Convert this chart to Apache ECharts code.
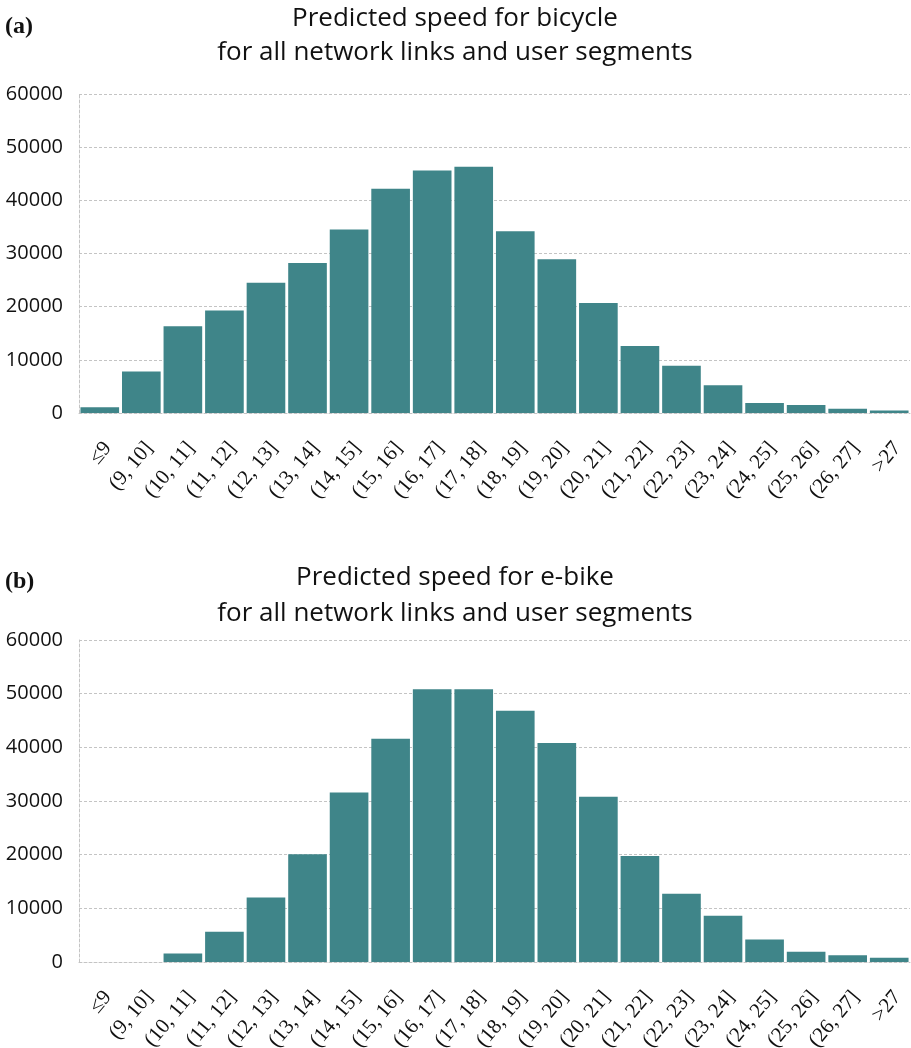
<!DOCTYPE html>
<html>
<head>
<meta charset="utf-8">
<script src="https://cdn.jsdelivr.net/npm/echarts@6/dist/echarts.min.js"></script>
<style>
  html, body { margin: 0; padding: 0; background: #fff; }
  #chart { width: 911px; height: 1048px; }
</style>
</head>
<body>
<div id="chart"></div>
<script>
// Speed bins (km/h)
const speedBins = ['≤9', '(9, 10]', '(10, 11]', '(11, 12]', '(12, 13]', '(13, 14]', '(14, 15]',
  '(15, 16]', '(16, 17]', '(17, 18]', '(18, 19]', '(19, 20]', '(20, 21]', '(21, 22]',
  '(22, 23]', '(23, 24]', '(24, 25]', '(25, 26]', '(26, 27]', '>27'];

// Counts of link/segment combinations per bin
const bicycleCounts = [1100, 7800, 16300, 19300, 24500, 28200, 34500, 42200, 45600, 46300,
  34200, 28900, 20700, 12600, 8900, 5200, 1900, 1500, 800, 450];
const ebikeCounts = [0, 0, 1600, 5650, 12000, 20100, 31600, 41600, 50800, 50800,
  46800, 40800, 30800, 19750, 12700, 8600, 4200, 1900, 1250, 800];

const yTicks = { min: 0, max: 60000, interval: 10000 };

const titleTopLines = ['Predicted speed for bicycle', 'for all network links and user segments'];
const titleBottomLines = ['Predicted speed for e-bike', 'for all network links and user segments'];
const panelTags = ['(a)', '(b)'];

const barColor = '#3f8589';
const gridLine = { color: '#c4c4c4', type: [3, 2], width: 1 };

function yAxis(gridIndex) {
  return {
    type: 'value', gridIndex,
    min: yTicks.min, max: yTicks.max, interval: yTicks.interval,
    axisLabel: {
      color: '#111', fontFamily: 'Open Sans', fontSize: 20, margin: 16,
      formatter: v => String(v)
    },
    axisLine: { show: true, lineStyle: gridLine },
    axisTick: { show: false },
    splitLine: { show: true, lineStyle: gridLine }
  };
}

function xAxis(gridIndex) {
  return {
    type: 'category', gridIndex, data: speedBins,
    axisLine: { show: true, lineStyle: gridLine },
    axisTick: { show: false },
    axisLabel: {
      interval: 0, rotate: 50, margin: 25, verticalAlign: 'top',
      color: '#111', fontFamily: 'Liberation Serif', fontSize: 21
    }
  };
}

function titleText(text, y) {
  return {
    type: 'text', x: 455, y,
    style: {
      text, align: 'center', verticalAlign: 'middle',
      font: '26px "Open Sans"', fill: '#111'
    }
  };
}

function tagText(text, y) {
  return {
    type: 'text', x: 5, y,
    style: { text, align: 'left', verticalAlign: 'middle', font: 'bold 24px "Liberation Serif"', fill: '#111' }
  };
}

const chart = echarts.init(document.getElementById('chart'), null, { renderer: 'canvas' });
chart.setOption({
  animation: false,
  backgroundColor: '#fff',
  graphic: [
    tagText(panelTags[0], 27),
    titleText(titleTopLines[0], 19),
    titleText(titleTopLines[1], 53),
    tagText(panelTags[1], 582),
    titleText(titleBottomLines[0], 578),
    titleText(titleBottomLines[1], 614)
  ],
  grid: [
    { left: 79, right: 1, top: 94, height: 319, outerBoundsMode: 'none' },
    { left: 79, right: 1, top: 640, height: 322, outerBoundsMode: 'none' }
  ],
  xAxis: [xAxis(0), xAxis(1)],
  yAxis: [yAxis(0), yAxis(1)],
  series: [
    { type: 'bar', xAxisIndex: 0, yAxisIndex: 0, data: bicycleCounts,
      barCategoryGap: '7%', itemStyle: { color: barColor } },
    { type: 'bar', xAxisIndex: 1, yAxisIndex: 1, data: ebikeCounts,
      barCategoryGap: '7%', itemStyle: { color: barColor } }
  ]
});
</script>
</body>
</html>
